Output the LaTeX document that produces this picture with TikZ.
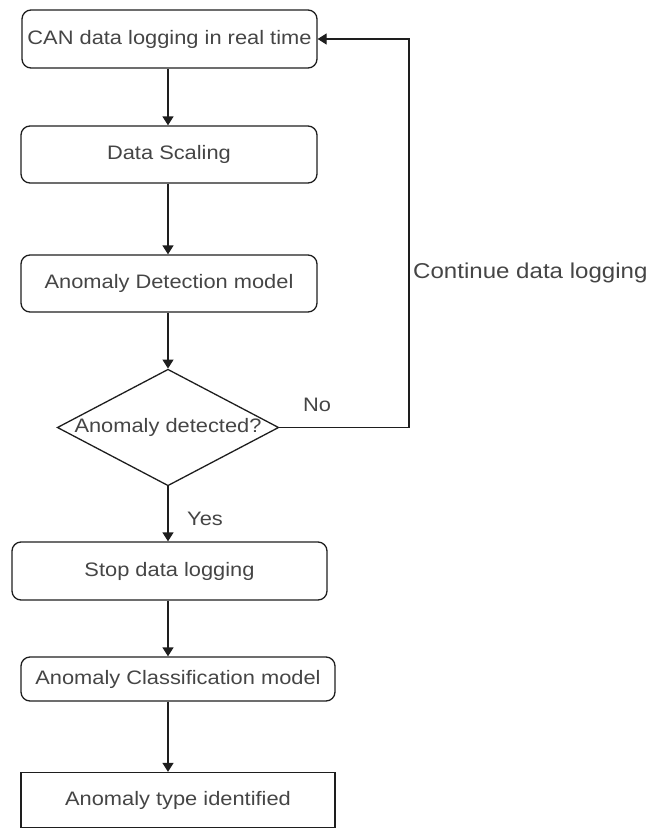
\documentclass[tikz,border=0pt]{standalone}
\usepackage{fontspec}
\setmainfont{Liberation Sans}[FakeStretch=1.12]
\usetikzlibrary{shapes.geometric,arrows.meta}

\definecolor{inkline}{HTML}{1E1E1E}
\definecolor{inktext}{HTML}{454545}

\tikzset{
  txt/.style={font=\fontsize{19.5}{22}\selectfont, text=inktext},
  procbox/.style={txt, draw=inkline, line width=1.3pt, rounded corners=9pt,
                  inner sep=0pt, anchor=center},
  plainbox/.style={txt, draw=inkline, line width=1.3pt, inner sep=0pt, anchor=center},
  decision/.style={txt, draw=inkline, line width=1.3pt, diamond, aspect=1.9,
                   inner sep=0pt, minimum width=220pt, minimum height=115pt},
  flow/.style={draw=inkline, line width=1.3pt, -{Triangle[length=9pt,width=11pt]}},
  tag/.style={txt, anchor=center, inner sep=0pt}
}

\begin{document}
\begin{tikzpicture}[x=1pt,y=-1pt]
  \useasboundingbox (0,0) rectangle (647,828);

  % process steps
  \node[procbox, minimum width=295pt, minimum height=58pt] (log)   at (169.5,39)    {CAN data logging in real time};
  \node[procbox, minimum width=296pt, minimum height=57pt] (scale) at (169,154.5)   {Data Scaling};
  \node[procbox, minimum width=296pt, minimum height=57pt] (det)   at (169,283.5)   {Anomaly Detection model};
  \node[decision] (dec) at (168,427.5) {Anomaly detected?};
  \node[procbox, minimum width=315pt, minimum height=58pt] (stop)  at (169.5,571)   {Stop data logging};
  \node[procbox, minimum width=314pt, minimum height=44pt] (cls)   at (178,679)     {Anomaly Classification model};
  \node[plainbox, minimum width=314pt, minimum height=55pt] (type) at (178,800)     {Anomaly type identified};

  % loop-back corner
  \coordinate (loopc) at (409,427.5);

  % main flow
  \draw[flow] (log.south -| dec.north) -- (scale.north -| dec.north);
  \draw[flow] (scale.south -| dec.north) -- (det.north -| dec.north);
  \draw[flow] (det.south -| dec.north) -- (dec.north);
  \draw[flow] (dec.south) -- (stop.north -| dec.south);
  \draw[flow] (stop.south -| dec.south) -- (cls.north -| dec.south);
  \draw[flow] (cls.south -| dec.south) -- (type.north -| dec.south);

  % feedback when nothing is detected
  \draw[flow] (dec.east) -- (loopc) |- (log.east);

  % labels
  \node[tag] (no)   at (317,405)   {No};
  \node[tag] (yes)  at (205,519)   {Yes};
  \node[tag, anchor=west, font=\fontsize{21.5}{24}\selectfont] (cont) at (413,273) {Continue data logging};
\end{tikzpicture}
\end{document}
